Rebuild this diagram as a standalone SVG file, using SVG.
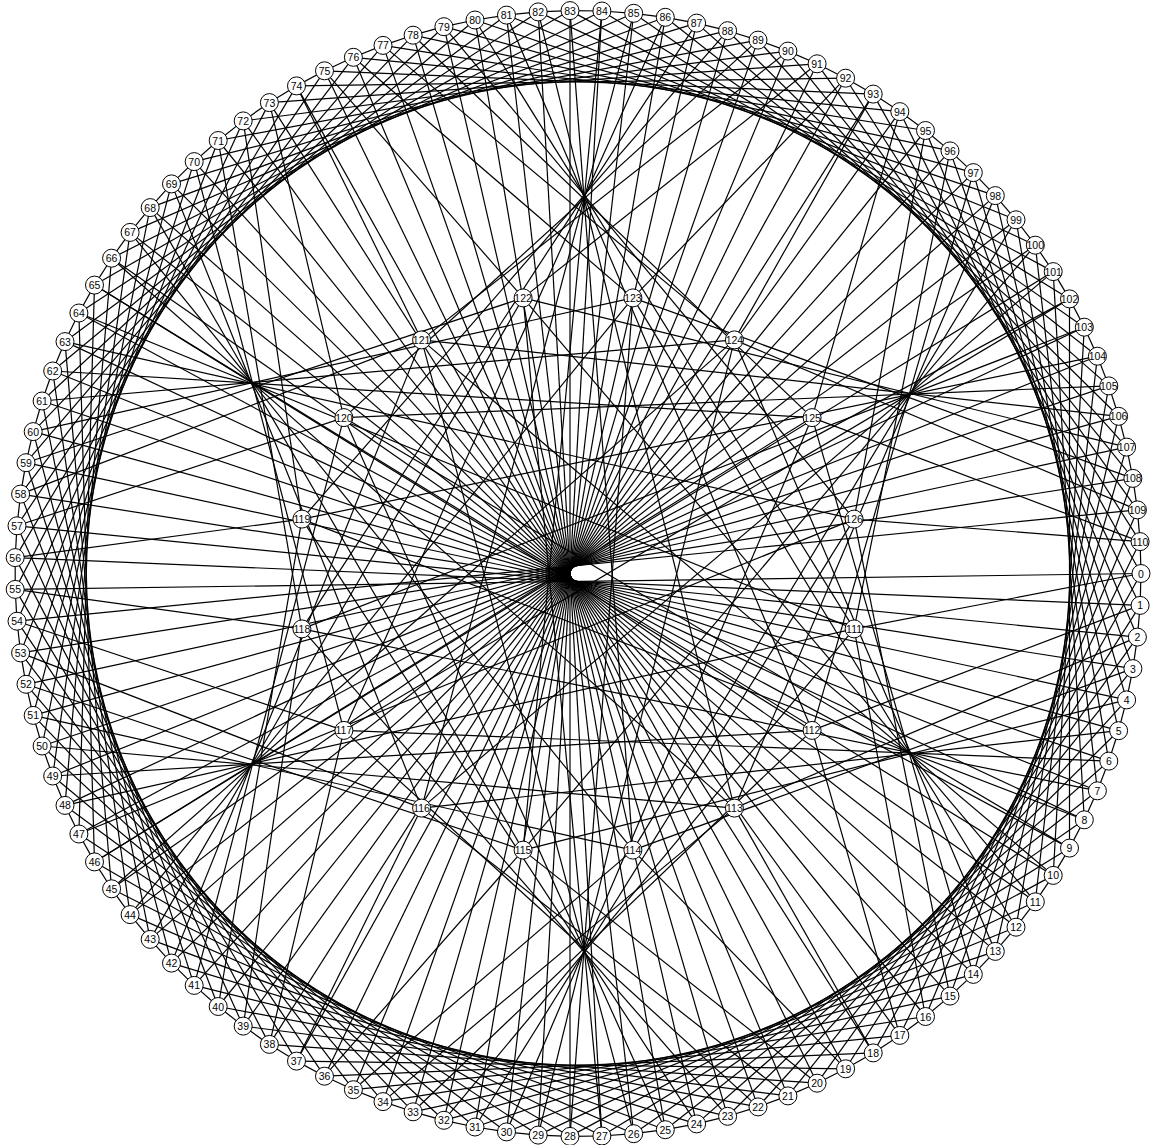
<svg xmlns="http://www.w3.org/2000/svg" width="1154" height="1145" viewBox="0 0 1154 1145">
<style>
#edges path{fill:none;stroke:#000;stroke-width:1.2}
.n circle{fill:#fff;stroke:#000;stroke-width:1}
.n text{font-family:"Liberation Sans",Arial,sans-serif;font-size:10.5px;text-anchor:middle;fill:#000;opacity:.98}
</style>
<rect width="1154" height="1145" fill="#fff"/>
<g transform="translate(.5 .5)">
<g id="edges">
<g id="ring">
<path d="M1140.5 573L1139.6 604.9"/><path d="M1139.6 604.9L1136.9 636.6"/><path d="M1136.9 636.6L1132.4 668.1"/><path d="M1132.4 668.1L1126.1 699.4"/><path d="M1126.1 699.4L1118.1 730.2"/><path d="M1118.1 730.2L1108.3 760.6"/><path d="M1108.3 760.6L1096.9 790.3"/><path d="M1096.9 790.3L1083.8 819.3"/><path d="M1083.8 819.3L1069 847.6"/><path d="M1069 847.6L1052.7 874.9"/><path d="M1052.7 874.9L1034.8 901.3"/><path d="M1034.8 901.3L1015.5 926.7"/><path d="M1015.5 926.7L994.8 950.9"/><path d="M994.8 950.9L972.8 973.9"/><path d="M972.8 973.9L949.5 995.6"/><path d="M949.5 995.6L925 1016"/><path d="M925 1016L899.3 1034.9"/><path d="M899.3 1034.9L872.7 1052.4"/><path d="M872.7 1052.4L845.1 1068.3"/><path d="M845.1 1068.3L816.6 1082.7"/><path d="M816.6 1082.7L787.4 1095.4"/><path d="M787.4 1095.4L757.5 1106.4"/><path d="M757.5 1106.4L727.1 1115.8"/><path d="M727.1 1115.8L696.1 1123.4"/><path d="M696.1 1123.4L664.8 1129.2"/><path d="M664.8 1129.2L633.2 1133.2"/><path d="M633.2 1133.2L601.4 1135.5"/><path d="M601.4 1135.5L569.5 1135.9"/><path d="M569.5 1135.9L537.7 1134.6"/><path d="M537.7 1134.6L506 1131.4"/><path d="M506 1131.4L474.5 1126.5"/><path d="M474.5 1126.5L443.4 1119.8"/><path d="M443.4 1119.8L412.6 1111.3"/><path d="M412.6 1111.3L382.5 1101.1"/><path d="M382.5 1101.1L352.9 1089.2"/><path d="M352.9 1089.2L324 1075.7"/><path d="M324 1075.7L296 1060.6"/><path d="M296 1060.6L268.9 1043.9"/><path d="M268.9 1043.9L242.7 1025.6"/><path d="M242.7 1025.6L217.7 1006"/><path d="M217.7 1006L193.7 984.9"/><path d="M193.7 984.9L171 962.6"/><path d="M171 962.6L149.7 938.9"/><path d="M149.7 938.9L129.6 914.1"/><path d="M129.6 914.1L111.1 888.3"/><path d="M111.1 888.3L94 861.4"/><path d="M94 861.4L78.4 833.5"/><path d="M78.4 833.5L64.5 804.9"/><path d="M64.5 804.9L52.2 775.5"/><path d="M52.2 775.5L41.6 745.5"/><path d="M41.6 745.5L32.7 714.9"/><path d="M32.7 714.9L25.5 683.8"/><path d="M25.5 683.8L20.1 652.4"/><path d="M20.1 652.4L16.5 620.7"/><path d="M16.5 620.7L14.7 588.9"/><path d="M14.7 588.9L14.7 557.1"/><path d="M14.7 557.1L16.5 525.3"/><path d="M16.5 525.3L20.1 493.6"/><path d="M20.1 493.6L25.5 462.2"/><path d="M25.5 462.2L32.7 431.1"/><path d="M32.7 431.1L41.6 400.5"/><path d="M41.6 400.5L52.2 370.5"/><path d="M52.2 370.5L64.5 341.1"/><path d="M64.5 341.1L78.4 312.5"/><path d="M78.4 312.5L94 284.6"/><path d="M94 284.6L111.1 257.7"/><path d="M111.1 257.7L129.6 231.9"/><path d="M129.6 231.9L149.7 207.1"/><path d="M149.7 207.1L171 183.4"/><path d="M171 183.4L193.7 161.1"/><path d="M193.7 161.1L217.7 140"/><path d="M217.7 140L242.7 120.4"/><path d="M242.7 120.4L268.9 102.1"/><path d="M268.9 102.1L296 85.4"/><path d="M296 85.4L324 70.3"/><path d="M324 70.3L352.9 56.8"/><path d="M352.9 56.8L382.5 44.9"/><path d="M382.5 44.9L412.6 34.7"/><path d="M412.6 34.7L443.4 26.2"/><path d="M443.4 26.2L474.5 19.5"/><path d="M474.5 19.5L506 14.6"/><path d="M506 14.6L537.7 11.4"/><path d="M537.7 11.4L569.5 10.1"/><path d="M569.5 10.1L601.4 10.5"/><path d="M601.4 10.5L633.2 12.8"/><path d="M633.2 12.8L664.8 16.8"/><path d="M664.8 16.8L696.1 22.6"/><path d="M696.1 22.6L727.1 30.2"/><path d="M727.1 30.2L757.5 39.6"/><path d="M757.5 39.6L787.4 50.6"/><path d="M787.4 50.6L816.6 63.3"/><path d="M816.6 63.3L845.1 77.7"/><path d="M845.1 77.7L872.7 93.6"/><path d="M872.7 93.6L899.3 111.1"/><path d="M899.3 111.1L925 130"/><path d="M925 130L949.5 150.4"/><path d="M949.5 150.4L972.8 172.1"/><path d="M972.8 172.1L994.8 195.1"/><path d="M994.8 195.1L1015.5 219.3"/><path d="M1015.5 219.3L1034.8 244.7"/><path d="M1034.8 244.7L1052.7 271.1"/><path d="M1052.7 271.1L1069 298.4"/><path d="M1069 298.4L1083.8 326.7"/><path d="M1083.8 326.7L1096.9 355.7"/><path d="M1096.9 355.7L1108.3 385.4"/><path d="M1108.3 385.4L1118.1 415.8"/><path d="M1118.1 415.8L1126.1 446.6"/><path d="M1126.1 446.6L1132.4 477.9"/><path d="M1132.4 477.9L1136.9 509.4"/><path d="M1136.9 509.4L1139.6 541.1"/><path d="M1139.6 541.1L1140.5 573"/>
</g>
<g id="step18">
<path d="M1140.5 573L872.7 1052.4"/><path d="M1139.6 604.9L845.1 1068.3"/><path d="M1136.9 636.6L816.6 1082.7"/><path d="M1132.4 668.1L787.4 1095.4"/><path d="M1126.1 699.4L757.5 1106.4"/><path d="M1118.1 730.2L727.1 1115.8"/><path d="M1108.3 760.6L696.1 1123.4"/><path d="M1096.9 790.3L664.8 1129.2"/><path d="M1083.8 819.3L633.2 1133.2"/><path d="M1069 847.6L601.4 1135.5"/><path d="M1052.7 874.9L569.5 1135.9"/><path d="M1034.8 901.3L537.7 1134.6"/><path d="M1015.5 926.7L506 1131.4"/><path d="M994.8 950.9L474.5 1126.5"/><path d="M972.8 973.9L443.4 1119.8"/><path d="M949.5 995.6L412.6 1111.3"/><path d="M925 1016L382.5 1101.1"/><path d="M899.3 1034.9L352.9 1089.2"/><path d="M872.7 1052.4L324 1075.7"/><path d="M845.1 1068.3L296 1060.6"/><path d="M816.6 1082.7L268.9 1043.9"/><path d="M787.4 1095.4L242.7 1025.6"/><path d="M757.5 1106.4L217.7 1006"/><path d="M727.1 1115.8L193.7 984.9"/><path d="M696.1 1123.4L171 962.6"/><path d="M664.8 1129.2L149.7 938.9"/><path d="M633.2 1133.2L129.6 914.1"/><path d="M601.4 1135.5L111.1 888.3"/><path d="M569.5 1135.9L94 861.4"/><path d="M537.7 1134.6L78.4 833.5"/><path d="M506 1131.4L64.5 804.9"/><path d="M474.5 1126.5L52.2 775.5"/><path d="M443.4 1119.8L41.6 745.5"/><path d="M412.6 1111.3L32.7 714.9"/><path d="M382.5 1101.1L25.5 683.8"/><path d="M352.9 1089.2L20.1 652.4"/><path d="M324 1075.7L16.5 620.7"/><path d="M296 1060.6L14.7 588.9"/><path d="M268.9 1043.9L14.7 557.1"/><path d="M242.7 1025.6L16.5 525.3"/><path d="M217.7 1006L20.1 493.6"/><path d="M193.7 984.9L25.5 462.2"/><path d="M171 962.6L32.7 431.1"/><path d="M149.7 938.9L41.6 400.5"/><path d="M129.6 914.1L52.2 370.5"/><path d="M111.1 888.3L64.5 341.1"/><path d="M94 861.4L78.4 312.5"/><path d="M78.4 833.5L94 284.6"/><path d="M64.5 804.9L111.1 257.7"/><path d="M52.2 775.5L129.6 231.9"/><path d="M41.6 745.5L149.7 207.1"/><path d="M32.7 714.9L171 183.4"/><path d="M25.5 683.8L193.7 161.1"/><path d="M20.1 652.4L217.7 140"/><path d="M16.5 620.7L242.7 120.4"/><path d="M14.7 588.9L268.9 102.1"/><path d="M14.7 557.1L296 85.4"/><path d="M16.5 525.3L324 70.3"/><path d="M20.1 493.6L352.9 56.8"/><path d="M25.5 462.2L382.5 44.9"/><path d="M32.7 431.1L412.6 34.7"/><path d="M41.6 400.5L443.4 26.2"/><path d="M52.2 370.5L474.5 19.5"/><path d="M64.5 341.1L506 14.6"/><path d="M78.4 312.5L537.7 11.4"/><path d="M94 284.6L569.5 10.1"/><path d="M111.1 257.7L601.4 10.5"/><path d="M129.6 231.9L633.2 12.8"/><path d="M149.7 207.1L664.8 16.8"/><path d="M171 183.4L696.1 22.6"/><path d="M193.7 161.1L727.1 30.2"/><path d="M217.7 140L757.5 39.6"/><path d="M242.7 120.4L787.4 50.6"/><path d="M268.9 102.1L816.6 63.3"/><path d="M296 85.4L845.1 77.7"/><path d="M324 70.3L872.7 93.6"/><path d="M352.9 56.8L899.3 111.1"/><path d="M382.5 44.9L925 130"/><path d="M412.6 34.7L949.5 150.4"/><path d="M443.4 26.2L972.8 172.1"/><path d="M474.5 19.5L994.8 195.1"/><path d="M506 14.6L1015.5 219.3"/><path d="M537.7 11.4L1034.8 244.7"/><path d="M569.5 10.1L1052.7 271.1"/><path d="M601.4 10.5L1069 298.4"/><path d="M633.2 12.8L1083.8 326.7"/><path d="M664.8 16.8L1096.9 355.7"/><path d="M696.1 22.6L1108.3 385.4"/><path d="M727.1 30.2L1118.1 415.8"/><path d="M757.5 39.6L1126.1 446.6"/><path d="M787.4 50.6L1132.4 477.9"/><path d="M816.6 63.3L1136.9 509.4"/><path d="M845.1 77.7L1139.6 541.1"/><path d="M872.7 93.6L1140.5 573"/><path d="M899.3 111.1L1139.6 604.9"/><path d="M925 130L1136.9 636.6"/><path d="M949.5 150.4L1132.4 668.1"/><path d="M972.8 172.1L1126.1 699.4"/><path d="M994.8 195.1L1118.1 730.2"/><path d="M1015.5 219.3L1108.3 760.6"/><path d="M1034.8 244.7L1096.9 790.3"/><path d="M1052.7 271.1L1083.8 819.3"/><path d="M1069 298.4L1069 847.6"/><path d="M1083.8 326.7L1052.7 874.9"/><path d="M1096.9 355.7L1034.8 901.3"/><path d="M1108.3 385.4L1015.5 926.7"/><path d="M1118.1 415.8L994.8 950.9"/><path d="M1126.1 446.6L972.8 973.9"/><path d="M1132.4 477.9L949.5 995.6"/><path d="M1136.9 509.4L925 1016"/><path d="M1139.6 541.1L899.3 1034.9"/>
</g>
<g id="across">
<path d="M1140.5 573L14.7 588.9"/><path d="M1139.6 604.9L14.7 557.1"/><path d="M1136.9 636.6L16.5 525.3"/><path d="M1132.4 668.1L20.1 493.6"/><path d="M1126.1 699.4L25.5 462.2"/><path d="M1118.1 730.2L32.7 431.1"/><path d="M1108.3 760.6L41.6 400.5"/><path d="M1096.9 790.3L52.2 370.5"/><path d="M1083.8 819.3L64.5 341.1"/><path d="M1069 847.6L78.4 312.5"/><path d="M1052.7 874.9L94 284.6"/><path d="M1034.8 901.3L111.1 257.7"/><path d="M1015.5 926.7L129.6 231.9"/><path d="M994.8 950.9L149.7 207.1"/><path d="M972.8 973.9L171 183.4"/><path d="M949.5 995.6L193.7 161.1"/><path d="M925 1016L217.7 140"/><path d="M899.3 1034.9L242.7 120.4"/><path d="M872.7 1052.4L268.9 102.1"/><path d="M845.1 1068.3L296 85.4"/><path d="M816.6 1082.7L324 70.3"/><path d="M787.4 1095.4L352.9 56.8"/><path d="M757.5 1106.4L382.5 44.9"/><path d="M727.1 1115.8L412.6 34.7"/><path d="M696.1 1123.4L443.4 26.2"/><path d="M664.8 1129.2L474.5 19.5"/><path d="M633.2 1133.2L506 14.6"/><path d="M601.4 1135.5L537.7 11.4"/><path d="M569.5 1135.9L569.5 10.1"/><path d="M537.7 1134.6L601.4 10.5"/><path d="M506 1131.4L633.2 12.8"/><path d="M474.5 1126.5L664.8 16.8"/><path d="M443.4 1119.8L696.1 22.6"/><path d="M412.6 1111.3L727.1 30.2"/><path d="M382.5 1101.1L757.5 39.6"/><path d="M352.9 1089.2L787.4 50.6"/><path d="M324 1075.7L816.6 63.3"/><path d="M296 1060.6L845.1 77.7"/><path d="M268.9 1043.9L872.7 93.6"/><path d="M242.7 1025.6L899.3 111.1"/><path d="M217.7 1006L925 130"/><path d="M193.7 984.9L949.5 150.4"/><path d="M171 962.6L972.8 172.1"/><path d="M149.7 938.9L994.8 195.1"/><path d="M129.6 914.1L1015.5 219.3"/><path d="M111.1 888.3L1034.8 244.7"/><path d="M94 861.4L1052.7 271.1"/><path d="M78.4 833.5L1069 298.4"/><path d="M64.5 804.9L1083.8 326.7"/><path d="M52.2 775.5L1096.9 355.7"/><path d="M41.6 745.5L1108.3 385.4"/><path d="M32.7 714.9L1118.1 415.8"/><path d="M25.5 683.8L1126.1 446.6"/><path d="M20.1 652.4L1132.4 477.9"/><path d="M16.5 620.7L1136.9 509.4"/>
</g>
<g id="fans">
<path d="M853.6 628.4L1140.5 573"/><path d="M853.6 628.4L925 1016"/><path d="M853.6 628.4L443.4 1119.8"/><path d="M853.6 628.4L64.5 804.9"/><path d="M853.6 628.4L78.4 312.5"/><path d="M853.6 628.4L474.5 19.5"/><path d="M853.6 628.4L949.5 150.4"/>
<path d="M811.6 729.9L1139.6 604.9"/><path d="M811.6 729.9L899.3 1034.9"/><path d="M811.6 729.9L412.6 1111.3"/><path d="M811.6 729.9L52.2 775.5"/><path d="M811.6 729.9L94 284.6"/><path d="M811.6 729.9L506 14.6"/><path d="M811.6 729.9L972.8 172.1"/>
<path d="M733.9 807.6L1136.9 636.6"/><path d="M733.9 807.6L872.7 1052.4"/><path d="M733.9 807.6L382.5 1101.1"/><path d="M733.9 807.6L41.6 745.5"/><path d="M733.9 807.6L111.1 257.7"/><path d="M733.9 807.6L537.7 11.4"/><path d="M733.9 807.6L994.8 195.1"/>
<path d="M632.4 849.6L1132.4 668.1"/><path d="M632.4 849.6L845.1 1068.3"/><path d="M632.4 849.6L352.9 1089.2"/><path d="M632.4 849.6L32.7 714.9"/><path d="M632.4 849.6L129.6 231.9"/><path d="M632.4 849.6L569.5 10.1"/><path d="M632.4 849.6L1015.5 219.3"/>
<path d="M522.6 849.6L1126.1 699.4"/><path d="M522.6 849.6L816.6 1082.7"/><path d="M522.6 849.6L324 1075.7"/><path d="M522.6 849.6L25.5 683.8"/><path d="M522.6 849.6L149.7 207.1"/><path d="M522.6 849.6L601.4 10.5"/><path d="M522.6 849.6L1034.8 244.7"/>
<path d="M421.1 807.6L1118.1 730.2"/><path d="M421.1 807.6L787.4 1095.4"/><path d="M421.1 807.6L296 1060.6"/><path d="M421.1 807.6L20.1 652.4"/><path d="M421.1 807.6L171 183.4"/><path d="M421.1 807.6L633.2 12.8"/><path d="M421.1 807.6L1052.7 271.1"/>
<path d="M343.4 729.9L1108.3 760.6"/><path d="M343.4 729.9L757.5 1106.4"/><path d="M343.4 729.9L268.9 1043.9"/><path d="M343.4 729.9L16.5 620.7"/><path d="M343.4 729.9L193.7 161.1"/><path d="M343.4 729.9L664.8 16.8"/><path d="M343.4 729.9L1069 298.4"/>
<path d="M301.4 628.4L1096.9 790.3"/><path d="M301.4 628.4L727.1 1115.8"/><path d="M301.4 628.4L242.7 1025.6"/><path d="M301.4 628.4L14.7 588.9"/><path d="M301.4 628.4L217.7 140"/><path d="M301.4 628.4L696.1 22.6"/><path d="M301.4 628.4L1083.8 326.7"/>
<path d="M301.4 518.6L1083.8 819.3"/><path d="M301.4 518.6L696.1 1123.4"/><path d="M301.4 518.6L217.7 1006"/><path d="M301.4 518.6L14.7 557.1"/><path d="M301.4 518.6L242.7 120.4"/><path d="M301.4 518.6L727.1 30.2"/><path d="M301.4 518.6L1096.9 355.7"/>
<path d="M343.4 417.1L1069 847.6"/><path d="M343.4 417.1L664.8 1129.2"/><path d="M343.4 417.1L193.7 984.9"/><path d="M343.4 417.1L16.5 525.3"/><path d="M343.4 417.1L268.9 102.1"/><path d="M343.4 417.1L757.5 39.6"/><path d="M343.4 417.1L1108.3 385.4"/>
<path d="M421.1 339.4L1052.7 874.9"/><path d="M421.1 339.4L633.2 1133.2"/><path d="M421.1 339.4L171 962.6"/><path d="M421.1 339.4L20.1 493.6"/><path d="M421.1 339.4L296 85.4"/><path d="M421.1 339.4L787.4 50.6"/><path d="M421.1 339.4L1118.1 415.8"/>
<path d="M522.6 297.4L1034.8 901.3"/><path d="M522.6 297.4L601.4 1135.5"/><path d="M522.6 297.4L149.7 938.9"/><path d="M522.6 297.4L25.5 462.2"/><path d="M522.6 297.4L324 70.3"/><path d="M522.6 297.4L816.6 63.3"/><path d="M522.6 297.4L1126.1 446.6"/>
<path d="M632.4 297.4L1015.5 926.7"/><path d="M632.4 297.4L569.5 1135.9"/><path d="M632.4 297.4L129.6 914.1"/><path d="M632.4 297.4L32.7 431.1"/><path d="M632.4 297.4L352.9 56.8"/><path d="M632.4 297.4L845.1 77.7"/><path d="M632.4 297.4L1132.4 477.9"/>
<path d="M733.9 339.4L994.8 950.9"/><path d="M733.9 339.4L537.7 1134.6"/><path d="M733.9 339.4L111.1 888.3"/><path d="M733.9 339.4L41.6 400.5"/><path d="M733.9 339.4L382.5 44.9"/><path d="M733.9 339.4L872.7 93.6"/><path d="M733.9 339.4L1136.9 509.4"/>
<path d="M811.6 417.1L972.8 973.9"/><path d="M811.6 417.1L506 1131.4"/><path d="M811.6 417.1L94 861.4"/><path d="M811.6 417.1L52.2 370.5"/><path d="M811.6 417.1L412.6 34.7"/><path d="M811.6 417.1L899.3 111.1"/><path d="M811.6 417.1L1139.6 541.1"/>
<path d="M853.6 518.6L949.5 995.6"/><path d="M853.6 518.6L474.5 1126.5"/><path d="M853.6 518.6L78.4 833.5"/><path d="M853.6 518.6L64.5 341.1"/><path d="M853.6 518.6L443.4 26.2"/><path d="M853.6 518.6L925 130"/><path d="M853.6 518.6L1139.6 541.1"/>
</g>
</g>
<g id="nodes">
<g id="n0" class="n"><circle cx="1140.5" cy="573" r="9"/><text x="1140.5" y="577">0</text></g>
<g id="n1" class="n"><circle cx="1139.6" cy="604.9" r="9"/><text x="1139.6" y="608.9">1</text></g>
<g id="n2" class="n"><circle cx="1136.9" cy="636.6" r="9"/><text x="1136.9" y="640.6">2</text></g>
<g id="n3" class="n"><circle cx="1132.4" cy="668.1" r="9"/><text x="1132.4" y="672.1">3</text></g>
<g id="n4" class="n"><circle cx="1126.1" cy="699.4" r="9"/><text x="1126.1" y="703.4">4</text></g>
<g id="n5" class="n"><circle cx="1118.1" cy="730.2" r="9"/><text x="1118.1" y="734.2">5</text></g>
<g id="n6" class="n"><circle cx="1108.3" cy="760.6" r="9"/><text x="1108.3" y="764.6">6</text></g>
<g id="n7" class="n"><circle cx="1096.9" cy="790.3" r="9"/><text x="1096.9" y="794.3">7</text></g>
<g id="n8" class="n"><circle cx="1083.8" cy="819.3" r="9"/><text x="1083.8" y="823.3">8</text></g>
<g id="n9" class="n"><circle cx="1069" cy="847.6" r="9"/><text x="1069" y="851.6">9</text></g>
<g id="n10" class="n"><circle cx="1052.7" cy="874.9" r="9"/><text x="1052.7" y="878.9">10</text></g>
<g id="n11" class="n"><circle cx="1034.8" cy="901.3" r="9"/><text x="1034.8" y="905.3">11</text></g>
<g id="n12" class="n"><circle cx="1015.5" cy="926.7" r="9"/><text x="1015.5" y="930.7">12</text></g>
<g id="n13" class="n"><circle cx="994.8" cy="950.9" r="9"/><text x="994.8" y="954.9">13</text></g>
<g id="n14" class="n"><circle cx="972.8" cy="973.9" r="9"/><text x="972.8" y="977.9">14</text></g>
<g id="n15" class="n"><circle cx="949.5" cy="995.6" r="9"/><text x="949.5" y="999.6">15</text></g>
<g id="n16" class="n"><circle cx="925" cy="1016" r="9"/><text x="925" y="1020">16</text></g>
<g id="n17" class="n"><circle cx="899.3" cy="1034.9" r="9"/><text x="899.3" y="1038.9">17</text></g>
<g id="n18" class="n"><circle cx="872.7" cy="1052.4" r="9"/><text x="872.7" y="1056.4">18</text></g>
<g id="n19" class="n"><circle cx="845.1" cy="1068.3" r="9"/><text x="845.1" y="1072.3">19</text></g>
<g id="n20" class="n"><circle cx="816.6" cy="1082.7" r="9"/><text x="816.6" y="1086.7">20</text></g>
<g id="n21" class="n"><circle cx="787.4" cy="1095.4" r="9"/><text x="787.4" y="1099.4">21</text></g>
<g id="n22" class="n"><circle cx="757.5" cy="1106.4" r="9"/><text x="757.5" y="1110.4">22</text></g>
<g id="n23" class="n"><circle cx="727.1" cy="1115.8" r="9"/><text x="727.1" y="1119.8">23</text></g>
<g id="n24" class="n"><circle cx="696.1" cy="1123.4" r="9"/><text x="696.1" y="1127.4">24</text></g>
<g id="n25" class="n"><circle cx="664.8" cy="1129.2" r="9"/><text x="664.8" y="1133.2">25</text></g>
<g id="n26" class="n"><circle cx="633.2" cy="1133.2" r="9"/><text x="633.2" y="1137.2">26</text></g>
<g id="n27" class="n"><circle cx="601.4" cy="1135.5" r="9"/><text x="601.4" y="1139.5">27</text></g>
<g id="n28" class="n"><circle cx="569.5" cy="1135.9" r="9"/><text x="569.5" y="1139.9">28</text></g>
<g id="n29" class="n"><circle cx="537.7" cy="1134.6" r="9"/><text x="537.7" y="1138.6">29</text></g>
<g id="n30" class="n"><circle cx="506" cy="1131.4" r="9"/><text x="506" y="1135.4">30</text></g>
<g id="n31" class="n"><circle cx="474.5" cy="1126.5" r="9"/><text x="474.5" y="1130.5">31</text></g>
<g id="n32" class="n"><circle cx="443.4" cy="1119.8" r="9"/><text x="443.4" y="1123.8">32</text></g>
<g id="n33" class="n"><circle cx="412.6" cy="1111.3" r="9"/><text x="412.6" y="1115.3">33</text></g>
<g id="n34" class="n"><circle cx="382.5" cy="1101.1" r="9"/><text x="382.5" y="1105.1">34</text></g>
<g id="n35" class="n"><circle cx="352.9" cy="1089.2" r="9"/><text x="352.9" y="1093.2">35</text></g>
<g id="n36" class="n"><circle cx="324" cy="1075.7" r="9"/><text x="324" y="1079.7">36</text></g>
<g id="n37" class="n"><circle cx="296" cy="1060.6" r="9"/><text x="296" y="1064.6">37</text></g>
<g id="n38" class="n"><circle cx="268.9" cy="1043.9" r="9"/><text x="268.9" y="1047.9">38</text></g>
<g id="n39" class="n"><circle cx="242.7" cy="1025.6" r="9"/><text x="242.7" y="1029.6">39</text></g>
<g id="n40" class="n"><circle cx="217.7" cy="1006" r="9"/><text x="217.7" y="1010">40</text></g>
<g id="n41" class="n"><circle cx="193.7" cy="984.9" r="9"/><text x="193.7" y="988.9">41</text></g>
<g id="n42" class="n"><circle cx="171" cy="962.6" r="9"/><text x="171" y="966.6">42</text></g>
<g id="n43" class="n"><circle cx="149.7" cy="938.9" r="9"/><text x="149.7" y="942.9">43</text></g>
<g id="n44" class="n"><circle cx="129.6" cy="914.1" r="9"/><text x="129.6" y="918.1">44</text></g>
<g id="n45" class="n"><circle cx="111.1" cy="888.3" r="9"/><text x="111.1" y="892.3">45</text></g>
<g id="n46" class="n"><circle cx="94" cy="861.4" r="9"/><text x="94" y="865.4">46</text></g>
<g id="n47" class="n"><circle cx="78.4" cy="833.5" r="9"/><text x="78.4" y="837.5">47</text></g>
<g id="n48" class="n"><circle cx="64.5" cy="804.9" r="9"/><text x="64.5" y="808.9">48</text></g>
<g id="n49" class="n"><circle cx="52.2" cy="775.5" r="9"/><text x="52.2" y="779.5">49</text></g>
<g id="n50" class="n"><circle cx="41.6" cy="745.5" r="9"/><text x="41.6" y="749.5">50</text></g>
<g id="n51" class="n"><circle cx="32.7" cy="714.9" r="9"/><text x="32.7" y="718.9">51</text></g>
<g id="n52" class="n"><circle cx="25.5" cy="683.8" r="9"/><text x="25.5" y="687.8">52</text></g>
<g id="n53" class="n"><circle cx="20.1" cy="652.4" r="9"/><text x="20.1" y="656.4">53</text></g>
<g id="n54" class="n"><circle cx="16.5" cy="620.7" r="9"/><text x="16.5" y="624.7">54</text></g>
<g id="n55" class="n"><circle cx="14.7" cy="588.9" r="9"/><text x="14.7" y="592.9">55</text></g>
<g id="n56" class="n"><circle cx="14.7" cy="557.1" r="9"/><text x="14.7" y="561.1">56</text></g>
<g id="n57" class="n"><circle cx="16.5" cy="525.3" r="9"/><text x="16.5" y="529.3">57</text></g>
<g id="n58" class="n"><circle cx="20.1" cy="493.6" r="9"/><text x="20.1" y="497.6">58</text></g>
<g id="n59" class="n"><circle cx="25.5" cy="462.2" r="9"/><text x="25.5" y="466.2">59</text></g>
<g id="n60" class="n"><circle cx="32.7" cy="431.1" r="9"/><text x="32.7" y="435.1">60</text></g>
<g id="n61" class="n"><circle cx="41.6" cy="400.5" r="9"/><text x="41.6" y="404.5">61</text></g>
<g id="n62" class="n"><circle cx="52.2" cy="370.5" r="9"/><text x="52.2" y="374.5">62</text></g>
<g id="n63" class="n"><circle cx="64.5" cy="341.1" r="9"/><text x="64.5" y="345.1">63</text></g>
<g id="n64" class="n"><circle cx="78.4" cy="312.5" r="9"/><text x="78.4" y="316.5">64</text></g>
<g id="n65" class="n"><circle cx="94" cy="284.6" r="9"/><text x="94" y="288.6">65</text></g>
<g id="n66" class="n"><circle cx="111.1" cy="257.7" r="9"/><text x="111.1" y="261.7">66</text></g>
<g id="n67" class="n"><circle cx="129.6" cy="231.9" r="9"/><text x="129.6" y="235.9">67</text></g>
<g id="n68" class="n"><circle cx="149.7" cy="207.1" r="9"/><text x="149.7" y="211.1">68</text></g>
<g id="n69" class="n"><circle cx="171" cy="183.4" r="9"/><text x="171" y="187.4">69</text></g>
<g id="n70" class="n"><circle cx="193.7" cy="161.1" r="9"/><text x="193.7" y="165.1">70</text></g>
<g id="n71" class="n"><circle cx="217.7" cy="140" r="9"/><text x="217.7" y="144">71</text></g>
<g id="n72" class="n"><circle cx="242.7" cy="120.4" r="9"/><text x="242.7" y="124.4">72</text></g>
<g id="n73" class="n"><circle cx="268.9" cy="102.1" r="9"/><text x="268.9" y="106.1">73</text></g>
<g id="n74" class="n"><circle cx="296" cy="85.4" r="9"/><text x="296" y="89.4">74</text></g>
<g id="n75" class="n"><circle cx="324" cy="70.3" r="9"/><text x="324" y="74.3">75</text></g>
<g id="n76" class="n"><circle cx="352.9" cy="56.8" r="9"/><text x="352.9" y="60.8">76</text></g>
<g id="n77" class="n"><circle cx="382.5" cy="44.9" r="9"/><text x="382.5" y="48.9">77</text></g>
<g id="n78" class="n"><circle cx="412.6" cy="34.7" r="9"/><text x="412.6" y="38.7">78</text></g>
<g id="n79" class="n"><circle cx="443.4" cy="26.2" r="9"/><text x="443.4" y="30.2">79</text></g>
<g id="n80" class="n"><circle cx="474.5" cy="19.5" r="9"/><text x="474.5" y="23.5">80</text></g>
<g id="n81" class="n"><circle cx="506" cy="14.6" r="9"/><text x="506" y="18.6">81</text></g>
<g id="n82" class="n"><circle cx="537.7" cy="11.4" r="9"/><text x="537.7" y="15.4">82</text></g>
<g id="n83" class="n"><circle cx="569.5" cy="10.1" r="9"/><text x="569.5" y="14.1">83</text></g>
<g id="n84" class="n"><circle cx="601.4" cy="10.5" r="9"/><text x="601.4" y="14.5">84</text></g>
<g id="n85" class="n"><circle cx="633.2" cy="12.8" r="9"/><text x="633.2" y="16.8">85</text></g>
<g id="n86" class="n"><circle cx="664.8" cy="16.8" r="9"/><text x="664.8" y="20.8">86</text></g>
<g id="n87" class="n"><circle cx="696.1" cy="22.6" r="9"/><text x="696.1" y="26.6">87</text></g>
<g id="n88" class="n"><circle cx="727.1" cy="30.2" r="9"/><text x="727.1" y="34.2">88</text></g>
<g id="n89" class="n"><circle cx="757.5" cy="39.6" r="9"/><text x="757.5" y="43.6">89</text></g>
<g id="n90" class="n"><circle cx="787.4" cy="50.6" r="9"/><text x="787.4" y="54.6">90</text></g>
<g id="n91" class="n"><circle cx="816.6" cy="63.3" r="9"/><text x="816.6" y="67.3">91</text></g>
<g id="n92" class="n"><circle cx="845.1" cy="77.7" r="9"/><text x="845.1" y="81.7">92</text></g>
<g id="n93" class="n"><circle cx="872.7" cy="93.6" r="9"/><text x="872.7" y="97.6">93</text></g>
<g id="n94" class="n"><circle cx="899.3" cy="111.1" r="9"/><text x="899.3" y="115.1">94</text></g>
<g id="n95" class="n"><circle cx="925" cy="130" r="9"/><text x="925" y="134">95</text></g>
<g id="n96" class="n"><circle cx="949.5" cy="150.4" r="9"/><text x="949.5" y="154.4">96</text></g>
<g id="n97" class="n"><circle cx="972.8" cy="172.1" r="9"/><text x="972.8" y="176.1">97</text></g>
<g id="n98" class="n"><circle cx="994.8" cy="195.1" r="9"/><text x="994.8" y="199.1">98</text></g>
<g id="n99" class="n"><circle cx="1015.5" cy="219.3" r="9"/><text x="1015.5" y="223.3">99</text></g>
<g id="n100" class="n"><circle cx="1034.8" cy="244.7" r="9"/><text x="1034.8" y="248.7">100</text></g>
<g id="n101" class="n"><circle cx="1052.7" cy="271.1" r="9"/><text x="1052.7" y="275.1">101</text></g>
<g id="n102" class="n"><circle cx="1069" cy="298.4" r="9"/><text x="1069" y="302.4">102</text></g>
<g id="n103" class="n"><circle cx="1083.8" cy="326.7" r="9"/><text x="1083.8" y="330.7">103</text></g>
<g id="n104" class="n"><circle cx="1096.9" cy="355.7" r="9"/><text x="1096.9" y="359.7">104</text></g>
<g id="n105" class="n"><circle cx="1108.3" cy="385.4" r="9"/><text x="1108.3" y="389.4">105</text></g>
<g id="n106" class="n"><circle cx="1118.1" cy="415.8" r="9"/><text x="1118.1" y="419.8">106</text></g>
<g id="n107" class="n"><circle cx="1126.1" cy="446.6" r="9"/><text x="1126.1" y="450.6">107</text></g>
<g id="n108" class="n"><circle cx="1132.4" cy="477.9" r="9"/><text x="1132.4" y="481.9">108</text></g>
<g id="n109" class="n"><circle cx="1136.9" cy="509.4" r="9"/><text x="1136.9" y="513.4">109</text></g>
<g id="n110" class="n"><circle cx="1139.6" cy="541.1" r="9"/><text x="1139.6" y="545.1">110</text></g>
<g id="n111" class="n"><circle cx="853.6" cy="628.4" r="9"/><text x="853.6" y="632.4">111</text></g>
<g id="n112" class="n"><circle cx="811.6" cy="729.9" r="9"/><text x="811.6" y="733.9">112</text></g>
<g id="n113" class="n"><circle cx="733.9" cy="807.6" r="9"/><text x="733.9" y="811.6">113</text></g>
<g id="n114" class="n"><circle cx="632.4" cy="849.6" r="9"/><text x="632.4" y="853.6">114</text></g>
<g id="n115" class="n"><circle cx="522.6" cy="849.6" r="9"/><text x="522.6" y="853.6">115</text></g>
<g id="n116" class="n"><circle cx="421.1" cy="807.6" r="9"/><text x="421.1" y="811.6">116</text></g>
<g id="n117" class="n"><circle cx="343.4" cy="729.9" r="9"/><text x="343.4" y="733.9">117</text></g>
<g id="n118" class="n"><circle cx="301.4" cy="628.4" r="9"/><text x="301.4" y="632.4">118</text></g>
<g id="n119" class="n"><circle cx="301.4" cy="518.6" r="9"/><text x="301.4" y="522.6">119</text></g>
<g id="n120" class="n"><circle cx="343.4" cy="417.1" r="9"/><text x="343.4" y="421.1">120</text></g>
<g id="n121" class="n"><circle cx="421.1" cy="339.4" r="9"/><text x="421.1" y="343.4">121</text></g>
<g id="n122" class="n"><circle cx="522.6" cy="297.4" r="9"/><text x="522.6" y="301.4">122</text></g>
<g id="n123" class="n"><circle cx="632.4" cy="297.4" r="9"/><text x="632.4" y="301.4">123</text></g>
<g id="n124" class="n"><circle cx="733.9" cy="339.4" r="9"/><text x="733.9" y="343.4">124</text></g>
<g id="n125" class="n"><circle cx="811.6" cy="417.1" r="9"/><text x="811.6" y="421.1">125</text></g>
<g id="n126" class="n"><circle cx="853.6" cy="518.6" r="9"/><text x="853.6" y="522.6">126</text></g>
</g>
</g>
</svg>
